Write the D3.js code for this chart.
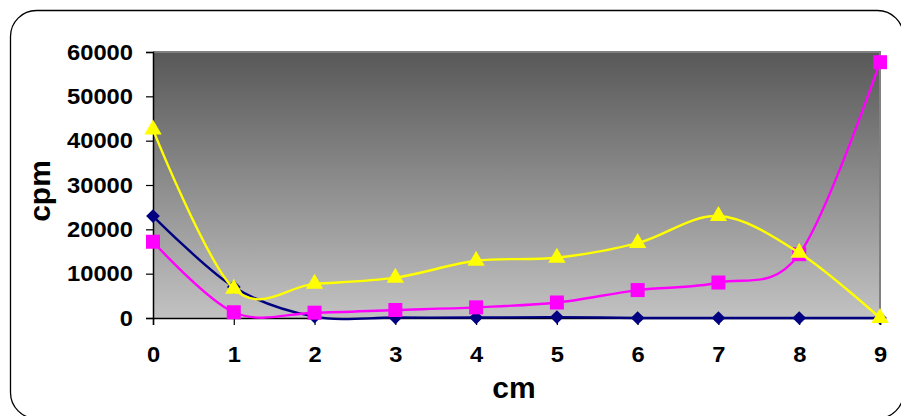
<!DOCTYPE html>
<html>
<head>
<meta charset="utf-8">
<script src="https://cdn.jsdelivr.net/npm/d3@7/dist/d3.min.js"></script>
<style>
  html, body { margin: 0; padding: 0; background: #fff; }
  svg { display: block; }
  text { font-family: "Liberation Sans", Arial, sans-serif; font-weight: bold; fill: #000; }
</style>
</head>
<body>
<svg id="chart" width="901" height="416"></svg>
<script>
// Distance along the strip (cm)
const categories = [0, 1, 2, 3, 4, 5, 6, 7, 8, 9];
// Counts per minute for the three series
const seriesNavy    = [23000, 7000, 300, 100, 100, 200, 0, 0, 0, 0];
const seriesMagenta = [17200, 1300, 1200, 1800, 2400, 3500, 6300, 8000, 14400, 57700];
const seriesYellow  = [42500, 6600, 7700, 9100, 12900, 13600, 16900, 23000, 14700, 0];
const yTicks = [0, 10000, 20000, 30000, 40000, 50000, 60000];
const xTitle = "cm";
const yTitle = "cpm";

const svg = d3.select("#chart");
const plot = { left: 153, right: 880, top: 52, bottom: 318 };

// Outer rounded frame
svg.append("rect")
  .attr("x", 10.5).attr("y", 10.5)
  .attr("width", 893).attr("height", 408)
  .attr("rx", 26).attr("ry", 26)
  .attr("fill", "#fff").attr("stroke", "#000").attr("stroke-width", 1.3);

// Plot-area gradient
const defs = svg.append("defs");
const grad = defs.append("linearGradient").attr("id", "bg")
  .attr("x1", 0).attr("y1", 0).attr("x2", 0).attr("y2", 1);
grad.append("stop").attr("offset", "0%").attr("stop-color", "#585858");
grad.append("stop").attr("offset", "100%").attr("stop-color", "#c2c2c2");

const x = d3.scaleLinear().domain([0, 9]).range([plot.left, plot.right]);
const y = d3.scaleLinear().domain([0, 60000]).range([plot.bottom, plot.top]);

svg.append("rect")
  .attr("x", plot.left).attr("y", plot.top)
  .attr("width", plot.right - plot.left).attr("height", plot.bottom - plot.top)
  .attr("fill", "url(#bg)");

// Gray border on top and right of the plot area
svg.append("path")
  .attr("d", `M${plot.left},${plot.top}H${plot.right}V${plot.bottom}`)
  .attr("fill", "none").attr("stroke", "#808080").attr("stroke-width", 2);

function styleTickText(sel) {
  sel.style("font-size", "22px")
    .style("font-family", "Liberation Sans, Arial, sans-serif")
    .style("font-weight", "bold")
    .attr("fill", "#000")
    .attr("textLength", d => String(d).length * 13.2)
    .attr("lengthAdjust", "spacingAndGlyphs");
}

// Y axis
const yAxis = d3.axisLeft(y).tickValues(yTicks).tickSize(7).tickPadding(13).tickFormat(d3.format("d"));
const gy = svg.append("g").attr("transform", `translate(${plot.left},0)`).call(yAxis);
gy.select(".domain").attr("stroke", "#000").attr("stroke-width", 1.5);
gy.selectAll(".tick line").attr("stroke", "#000").attr("stroke-width", 1.2);
gy.selectAll(".tick text").call(styleTickText);

// X axis
const xAxis = d3.axisBottom(x).tickValues(categories).tickSize(7).tickPadding(21).tickFormat(d3.format("d"));
const gx = svg.append("g").attr("transform", `translate(0,${plot.bottom})`).call(xAxis);
gx.select(".domain").attr("stroke", "#000").attr("stroke-width", 1.5);
gx.selectAll(".tick line").attr("stroke", "#000").attr("stroke-width", 1.2);
gx.selectAll(".tick text").call(styleTickText);

// Axis titles
svg.append("text")
  .attr("x", 514).attr("y", 398)
  .attr("text-anchor", "middle")
  .style("font-size", "30px")
  .text(xTitle);
svg.append("text")
  .attr("transform", "translate(50,191) rotate(-90)")
  .attr("text-anchor", "middle")
  .style("font-size", "30px")
  .text(yTitle);

// Smoothed series lines and markers
const line = d3.line()
  .x((d, i) => x(categories[i]))
  .y(d => y(d))
  .curve(d3.curveCatmullRom.alpha(0));

const series = [
  { values: seriesNavy, color: "#000080", marker: "diamond" },
  { values: seriesMagenta, color: "#ff00ff", marker: "square" },
  { values: seriesYellow, color: "#ffff00", marker: "triangle" }
];

const markerSymbol = {
  diamond: d3.symbol().type(d3.symbolDiamond2).size(120),
  square: d3.symbol().type(d3.symbolSquare).size(196),
  triangle: d3.symbol().type(d3.symbolTriangle).size(130)
};

series.forEach(s => {
  const g = svg.append("g");
  g.append("path")
    .attr("d", line(s.values))
    .attr("fill", "none")
    .attr("stroke", s.color)
    .attr("stroke-width", 2.4);
  g.selectAll("path.m")
    .data(s.values)
    .join("path")
    .attr("class", "m")
    .attr("transform", (d, i) => `translate(${x(categories[i])},${y(d)})`)
    .attr("d", markerSymbol[s.marker]())
    .attr("fill", s.color);
});
</script>
</body>
</html>
